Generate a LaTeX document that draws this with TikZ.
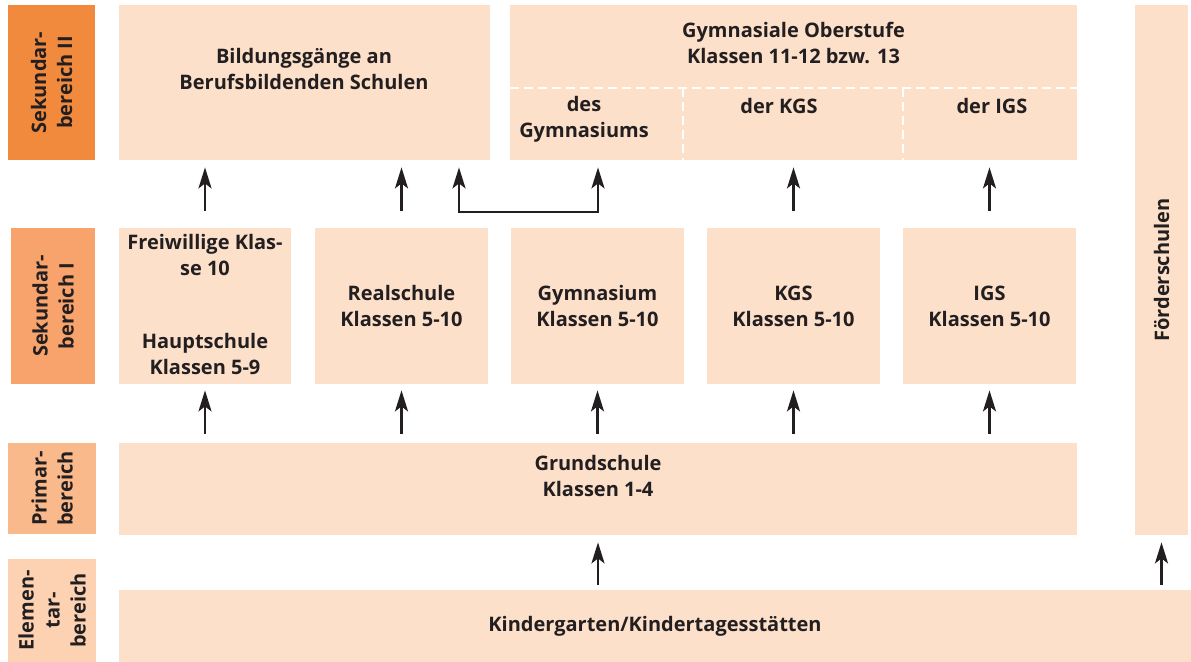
\documentclass[tikz,border=0pt]{standalone}
\usepackage{fontspec}
\setmainfont{Open Sans}
\usetikzlibrary{arrows.meta, positioning}
\definecolor{peach}{HTML}{FCE0CA}
\definecolor{sekzwei}{HTML}{F28A3E}
\definecolor{sekeins}{HTML}{F7A36B}
\definecolor{primar}{HTML}{FAB98A}
\definecolor{elementar}{HTML}{FCD2B3}
\definecolor{ink}{HTML}{231F20}

\begin{document}
\begin{tikzpicture}[x=0.5pt, y=-0.5pt, font=\bfseries\fontsize{10}{13}\selectfont, text=ink, >={Stealth[length=10.5pt, width=6.5pt, inset=2.5pt]},
  box/.style={rectangle, fill=peach, inner sep=0pt, align=center},
  lbl/.style={box, rotate=90},
  sz/.style 2 args={minimum width=#1*0.5pt, minimum height=#2*0.5pt},
  txt/.style={align=center, inner sep=0pt},
  arr/.style={->, color=ink, line width=1.3pt},
  sep/.style={draw=white, line width=1pt, dash pattern=on 4.5pt off 2.5pt}]
\useasboundingbox (0,0) rectangle (1191,662);

\node[lbl, sz={155}{87}, fill=sekzwei]   (SEKII) at (51.5,82.5) {Sekundar-\\bereich II};
\node[lbl, sz={156}{84}, fill=sekeins]   (SEKI)  at (53,306)    {Sekundar-\\bereich I};
\node[lbl, sz={91}{88},  fill=primar]    (PRIM)  at (52,488.5)  {Primar-\\bereich};
\node[lbl, sz={103}{88}, fill=elementar] (ELEM)  at (52,610.5)  {Elemen-\\tar-\\bereich};

\node[box, sz={371}{155}]  (BBS)  at (304.5,82.5) {};
\node[box, sz={567}{155}]  (GO)   at (793.5,82.5) {};
\node[box, sz={172}{156}]  (HS)   at (205,306)    {};
\node[box, sz={173}{156}]  (RS)   at (401.5,306)  {Realschule\\Klassen 5-10};
\node[box, sz={173}{156}]  (GY)   at (597.5,306)  {Gymnasium\\Klassen 5-10};
\node[box, sz={173}{156}]  (KGS)  at (793.5,306)  {KGS\\Klassen 5-10};
\node[box, sz={173}{156}]  (IGS)  at (989.5,306)  {IGS\\Klassen 5-10};
\node[box, sz={958}{92}]   (GS)   at (598,489)    {};
\node[box, sz={1072}{72}]  (KITA) at (655,626)    {Kindergarten/Kindertagesstätten};
\node[lbl, sz={530}{53}]   (FS)   at (1161.5,270) {Förderschulen};

\node[txt] (BBSTXT) at (304,69)    {Bildungsgänge an\\Berufsbildenden Schulen};
\node[txt] (GOTXT)  at (793.5,43)  {Gymnasiale Oberstufe\\Klassen 11-12 bzw. 13};
\node[txt] (GOGY)   at (584,119)   {des\\Gymnasiums};
\node[txt] (GOKGS)  at (779,106)   {der KGS};
\node[txt] (GOIGS)  at (992,106)   {der IGS};
\node[txt] (FWTXT)  at (205,255)   {Freiwillige Klas-\\se 10};
\node[txt] (HSTXT)  at (205,354.5) {Hauptschule\\Klassen 5-9};
\node[txt] (GSTXT)  at (598,476.5) {Grundschule\\Klassen 1-4};

\coordinate (SEP) at (0,88);
\coordinate (V1) at (683,88);
\coordinate (V2) at (903,88);
\draw[sep] (GO.west |- SEP) -- (GO.east |- SEP);
\draw[sep] (V1) -- (V1 |- GO.south);
\draw[sep] (V2) -- (V2 |- GO.south);

\path[arr, shorten <=8.5pt, shorten >=3.5pt]
(HS.north)  edge (HS.north |- BBS.south)
(RS.north)  edge (RS.north |- BBS.south)
(KGS.north) edge (KGS.north |- GO.south)
(IGS.north) edge (IGS.north |- GO.south);

\coordinate (B1) at (459,212);
\coordinate (B2) at (598,212);
\draw[arr, <->, shorten <=3.5pt, shorten >=3.5pt] (B1 |- BBS.south) -- (B1) -- (B2) -- (B2 |- GO.south);

\path[arr, shorten <=4.5pt, shorten >=3pt]
(GS.north -| HS)  edge (HS.south)
(GS.north -| RS)  edge (RS.south)
(GS.north -| GY)  edge (GY.south)
(GS.north -| KGS) edge (KGS.south)
(GS.north -| IGS) edge (IGS.south);

\path[arr, shorten <=2.5pt, shorten >=3.5pt]
(KITA.north -| GS) edge (GS.south)
(KITA.north -| FS) edge (FS.west);
\end{tikzpicture}
\end{document}
